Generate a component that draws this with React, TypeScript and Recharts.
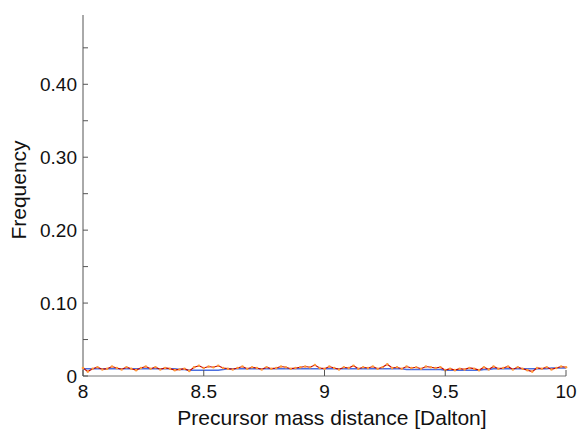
import React from 'react';
import { LineChart, Line, XAxis, YAxis } from 'recharts';

// mass distance (Dalton)
const massDistance = [
  8.0, 8.02, 8.04, 8.06, 8.08, 8.1, 8.12, 8.14, 8.16, 8.18, 8.2, 8.22, 8.24, 8.26, 8.28, 8.3, 8.32, 8.34, 8.36, 8.38,
  8.4, 8.42, 8.44, 8.46, 8.48, 8.5, 8.52, 8.54, 8.56, 8.58, 8.6, 8.62, 8.64, 8.66, 8.68, 8.7, 8.72, 8.74, 8.76, 8.78,
  8.8, 8.82, 8.84, 8.86, 8.88, 8.9, 8.92, 8.94, 8.96, 8.98, 9.0, 9.02, 9.04, 9.06, 9.08, 9.1, 9.12, 9.14, 9.16, 9.18,
  9.2, 9.22, 9.24, 9.26, 9.28, 9.3, 9.32, 9.34, 9.36, 9.38, 9.4, 9.42, 9.44, 9.46, 9.48, 9.5, 9.52, 9.54, 9.56, 9.58,
  9.6, 9.62, 9.64, 9.66, 9.68, 9.7, 9.72, 9.74, 9.76, 9.78, 9.8, 9.82, 9.84, 9.86, 9.88, 9.9, 9.92, 9.94, 9.96, 9.98, 10.0,
];

const observed = [
  0.011, 0.006, 0.010, 0.012, 0.009, 0.010, 0.013, 0.011, 0.009, 0.012, 0.010, 0.008, 0.011, 0.013, 0.010, 0.012, 0.009, 0.011, 0.010, 0.008,
  0.009, 0.010, 0.007, 0.012, 0.014, 0.011, 0.013, 0.012, 0.014, 0.011, 0.010, 0.009, 0.011, 0.013, 0.010, 0.012, 0.011, 0.009, 0.012, 0.010,
  0.011, 0.013, 0.012, 0.010, 0.011, 0.012, 0.013, 0.012, 0.015, 0.011, 0.010, 0.013, 0.011, 0.009, 0.012, 0.011, 0.014, 0.010, 0.012, 0.011,
  0.013, 0.010, 0.012, 0.016, 0.011, 0.012, 0.010, 0.013, 0.011, 0.012, 0.010, 0.013, 0.012, 0.011, 0.012, 0.008, 0.010, 0.008, 0.010, 0.009,
  0.011, 0.010, 0.008, 0.012, 0.009, 0.013, 0.010, 0.011, 0.013, 0.009, 0.012, 0.010, 0.008, 0.006, 0.011, 0.010, 0.012, 0.009, 0.011, 0.013, 0.012,
];

const expected = [
  0.010, 0.010, 0.010, 0.010, 0.010, 0.010, 0.010, 0.010, 0.010, 0.010, 0.010, 0.010, 0.010, 0.010, 0.010, 0.010, 0.010, 0.010, 0.010, 0.010,
  0.009, 0.009, 0.008, 0.008, 0.008, 0.008, 0.008, 0.008, 0.008, 0.009, 0.010, 0.010, 0.010, 0.010, 0.010, 0.010, 0.010, 0.010, 0.010, 0.010,
  0.010, 0.010, 0.010, 0.010, 0.010, 0.010, 0.010, 0.010, 0.010, 0.010, 0.010, 0.010, 0.010, 0.010, 0.010, 0.010, 0.010, 0.010, 0.010, 0.010,
  0.010, 0.010, 0.010, 0.010, 0.010, 0.010, 0.010, 0.009, 0.009, 0.009, 0.009, 0.009, 0.009, 0.009, 0.009, 0.008, 0.008, 0.008, 0.008, 0.008,
  0.008, 0.008, 0.008, 0.009, 0.009, 0.010, 0.010, 0.010, 0.010, 0.010, 0.010, 0.010, 0.010, 0.010, 0.010, 0.010, 0.010, 0.011, 0.011, 0.011, 0.011,
];

const xTicks = [8, 8.5, 9, 9.5, 10];
const xLabels = ['8', '8.5', '9', '9.5', '10'];
const yTicks = [0, 0.05, 0.1, 0.15, 0.2, 0.25, 0.3, 0.35, 0.4, 0.45];
const yLabels: Record<string, string> = { '0': '0', '0.1': '0.10', '0.2': '0.20', '0.3': '0.30', '0.4': '0.40' };

const data = massDistance.map((x, i) => ({ x, observed: observed[i], expected: expected[i] }));

const font = 'Liberation Sans, Arial, sans-serif';

function XTick({ x, y, payload }: any) {
  const idx = xTicks.indexOf(payload.value);
  return (
    <g>
      <line x1={x} x2={x} y1={y} y2={y - 6} stroke="#555" />
      <text x={x} y={y + 22} textAnchor="middle" fontSize={19} fill="#111" fontFamily={font}>
        {idx >= 0 ? xLabels[idx] : ''}
      </text>
    </g>
  );
}

function YTick({ x, y, payload }: any) {
  const label = yLabels[String(Math.round(payload.value * 100) / 100)];
  return (
    <g>
      <line x1={x} x2={x + 5} y1={y} y2={y} stroke="#555" />
      {label && (
        <text x={x - 6} y={y + 7} textAnchor="end" fontSize={19} fill="#111" fontFamily={font}>
          {label}
        </text>
      )}
    </g>
  );
}

export default function App() {
  return (
    <div style={{ position: 'absolute', left: 0, top: 0, width: 578, height: 429, background: '#fff' }}>
      <LineChart width={578} height={429} data={data} margin={{ top: 15, right: 12, left: 82, bottom: 52 }}>
        <XAxis
          dataKey="x"
          type="number"
          domain={[8, 10]}
          ticks={xTicks}
          height={1}
          tickSize={0}
          tickMargin={0}
          tick={<XTick />}
          stroke="#777"
          interval={0}
        />
        <YAxis
          type="number"
          domain={[0, 0.495]}
          ticks={yTicks}
          width={1}
          tickSize={0}
          tickMargin={0}
          tick={<YTick />}
          stroke="#555"
          interval={0}
          allowDataOverflow
        />
        <Line
          type="linear"
          dataKey="expected"
          stroke="#4a6ee0"
          strokeWidth={1.5}
          dot={false}
          isAnimationActive={false}
        />
        <Line
          type="linear"
          dataKey="observed"
          stroke="#c40000"
          strokeWidth={1.2}
          dot={{ r: 1.3, fill: '#ff9a3a', stroke: 'none' }}
          isAnimationActive={false}
        />
        <text x={26} y={190} transform="rotate(-90 26 190)" textAnchor="middle" fontSize={21} fill="#111" fontFamily={font}>
          Frequency
        </text>
        <text x={332} y={425} textAnchor="middle" fontSize={21} fill="#111" fontFamily={font}>
          Precursor mass distance [Dalton]
        </text>
      </LineChart>
    </div>
  );
}
